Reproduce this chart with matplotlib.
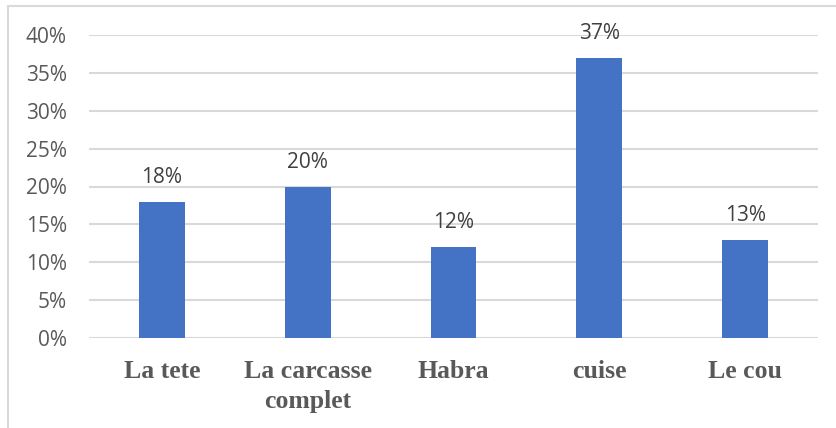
import matplotlib
matplotlib.use("Agg")
import matplotlib.pyplot as plt
from matplotlib.patches import Rectangle

categories = ["La tete", "La carcasse\ncomplet", "Habra", "cuise", "Le cou"]
values = [18, 20, 12, 37, 13]
yticks = [0, 5, 10, 15, 20, 25, 30, 35, 40]
ytick_labels = [f"{v}%" for v in yticks]

W, H = 837, 428
fig = plt.figure(figsize=(W / 100, H / 100), dpi=100)
fig.patch.set_facecolor("white")

# chart frame
fig.add_artist(Rectangle((8 / W, -0.1), 1.2, (H - 6) / H + 0.1, transform=fig.transFigure,
                         fill=False, edgecolor="#D9D9D9", linewidth=1.5))

ax = fig.add_axes([89 / W, 1 - 338 / H, (818 - 89) / W, (338 - 35) / H])
x = list(range(len(categories)))
ax.bar(x, values, width=0.315, color="#4472C4", zorder=3)
ax.set_xlim(-0.5, len(categories) - 0.5)
ax.set_ylim(0, 40)
ax.set_yticks(yticks)
ax.set_yticklabels(ytick_labels, fontsize=15, color="#595959", family="Open Sans")
ax.set_xticks(x)
ax.set_xticklabels(categories, fontsize=18.5, fontweight="bold", color="#595959",
                   family="Liberation Serif", linespacing=1.35)
ax.tick_params(axis="both", length=0)
ax.tick_params(axis="y", pad=16)
ax.tick_params(axis="x", pad=16)
ax.grid(axis="y", color="#D9D9D9", linewidth=1.5, zorder=0)
for s in ax.spines.values():
    s.set_visible(False)

for xi, v in zip(x, values):
    ax.annotate(f"{v}%", (xi, v), xytext=(0, 10), textcoords="offset points",
                ha="center", va="bottom", fontsize=15, color="#404040", family="Open Sans")

fig.savefig("out.png", dpi=100, facecolor="white")
